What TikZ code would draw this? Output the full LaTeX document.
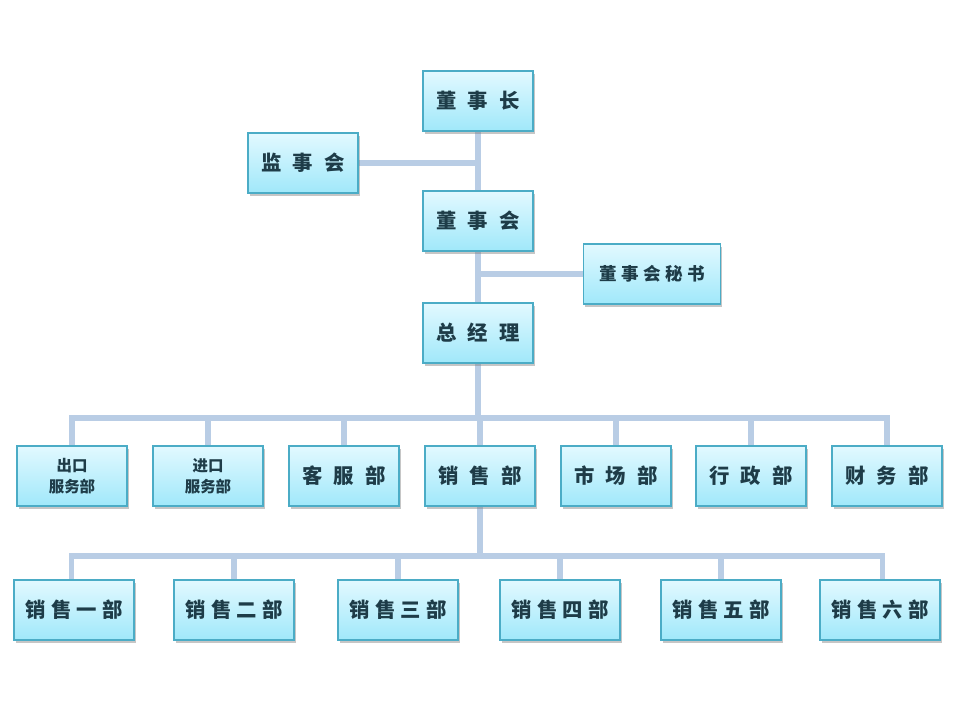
\documentclass[tikz,border=0pt]{standalone}
\usepackage{fontspec}
\setmainfont{Noto Sans CJK SC}
\usetikzlibrary{shadows, backgrounds}
\definecolor{boxline}{RGB}{75,172,198}
\definecolor{boxtop}{RGB}{226,249,255}
\definecolor{boxbot}{RGB}{160,232,250}
\definecolor{linkline}{RGB}{185,205,229}
\definecolor{boxtext}{RGB}{30,60,72}
\newcommand{\kgap}{\hspace{0.55em}}
\newcommand{\sgap}{\hspace{0.25em}}

\begin{document}
\begin{tikzpicture}[x=0.025cm, y=-0.025cm,
    post/.style={draw=boxline, thick, top color=boxtop, bottom color=boxbot,
        minimum width=2.75cm, minimum height=1.5cm, inner sep=0pt, align=center,
        text=boxtext, font=\fontsize{14.5}{16}\selectfont\bfseries,
        drop shadow={opacity=0.45, shadow xshift=1.2pt, shadow yshift=-1.8pt}},
    wide/.style={minimum width=3cm},
    small/.style={font=\fontsize{11}{15}\selectfont\bfseries},
    link/.style={draw=linkline, line width=3.6pt}]

        \useasboundingbox (0,0) rectangle (960,720);

        % top of the chart
        \node (chair) at (478,101)[post] {董\kgap 事\kgap 长};
        \node (super) at (303,163)[post] {监\kgap 事\kgap 会};
        \node (board) at (478,221)[post] {董\kgap 事\kgap 会};
        \node (secr) at (652,274)[post, minimum width=3.425cm, font=\fontsize{12.5}{15}\selectfont\bfseries] {董\sgap 事\sgap 会\sgap 秘\sgap 书};
        \node (gm) at (478,333)[post] {总\kgap 经\kgap 理};

        % departments
        \node (export) at (72,476)[post, small] {出口\\服务部};
        \node (import) at (208,476)[post, small] {进口\\服务部};
        \node (service) at (344,476)[post] {客\kgap 服\kgap 部};
        \node (sales) at (480,476)[post] {销\kgap 售\kgap 部};
        \node (market) at (616,476)[post] {市\kgap 场\kgap 部};
        \node (admin) at (751,476)[post] {行\kgap 政\kgap 部};
        \node (finance) at (887,476)[post] {财\kgap 务\kgap 部};

        % sales offices
        \node (s1) at (74,610)[post, wide] {销\sgap 售\sgap 一\sgap 部};
        \node (s2) at (234,610)[post, wide] {销\sgap 售\sgap 二\sgap 部};
        \node (s3) at (398,610)[post, wide] {销\sgap 售\sgap 三\sgap 部};
        \node (s4) at (560,610)[post, wide] {销\sgap 售\sgap 四\sgap 部};
        \node (s5) at (721,610)[post, wide] {销\sgap 售\sgap 五\sgap 部};
        \node (s6) at (880,610)[post, wide] {销\sgap 售\sgap 六\sgap 部};

        \coordinate (bus1) at (478,418);
        \coordinate (bus2) at (480,556);

        \begin{scope}[on background layer]
            \draw[link] (chair.south) -- (board.north);
            \draw[link] (board.south) -- (gm.north);
            \draw[link] (super.east) -- (super.east -| chair.south);
            \draw[link] (secr.west) -- (secr.west -| board.south);

            \draw[link] (gm.south) -- (gm.south |- bus1);
            \draw[link] (export.north) |- (finance.north |- bus1) -- (finance.north);
            \foreach \n in {import, service, sales, market, admin} {
                \draw[link] (\n.north) -- (\n.north |- bus1);
            }

            \draw[link] (sales.south) -- (sales.south |- bus2);
            \draw[link] ([xshift=-2pt]s1.north) |- ([xshift=2pt]s6.north |- bus2) -- ([xshift=2pt]s6.north);
            \foreach \n in {s2, s3, s4, s5} {
                \draw[link] (\n.north) -- (\n.north |- bus2);
            }
        \end{scope}
    \end{tikzpicture}
\end{document}
